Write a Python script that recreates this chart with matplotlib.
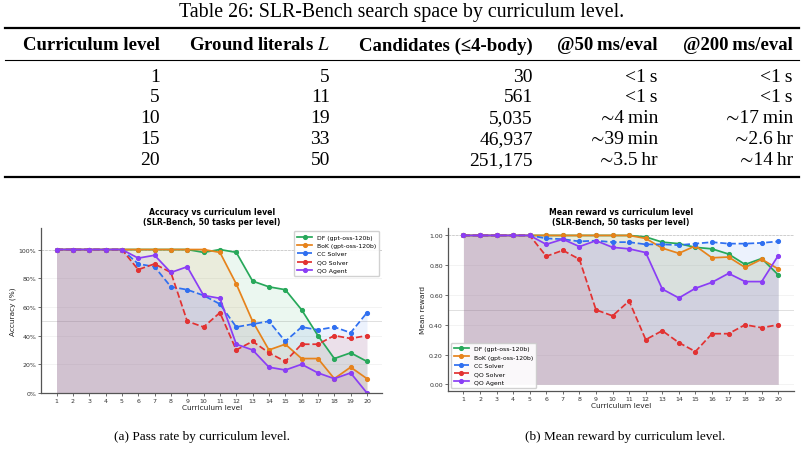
import matplotlib
matplotlib.use("Agg")
import matplotlib.pyplot as plt
from matplotlib.lines import Line2D
from matplotlib.ticker import FuncFormatter

plt.rcParams["mathtext.fontset"] = "stix"

# ---------------- table data ----------------
tbl_title = "Table 26: SLR-Bench search space by curriculum level."
tbl_headers = ["Curriculum level", "Ground literals $L$", "Candidates (\u22644-body)",
               "@50\u2009ms/eval", "@200\u2009ms/eval"]
tbl_level = ["1", "5", "10", "15", "20"]
tbl_literals = ["5", "11", "19", "33", "50"]
tbl_candidates = ["30", "561", "5,035", "46,937", "251,175"]
tbl_50ms = ["<1\u2009s", "<1\u2009s", "\u223c4\u2009min", "\u223c39\u2009min", "\u223c3.5\u2009hr"]
tbl_200ms = ["<1\u2009s", "<1\u2009s", "\u223c17\u2009min", "\u223c2.6\u2009hr", "\u223c14\u2009hr"]

# ---------------- chart data ----------------
levels = list(range(1, 21))
names = ["DF (gpt-oss-120b)", "BoK (gpt-oss-120b)", "CC Solver", "QO Solver", "QO Agent"]
colors = ["#27a85a", "#e6831c", "#2f6ff0", "#e23232", "#8a3ef5"]
styles = ["-", "-", "--", "--", "-"]

acc_df = [100, 100, 100, 100, 100, 100, 100, 100, 100, 98, 100, 98, 78, 74, 72, 58, 40, 24, 28, 22]
acc_bok = [100, 100, 100, 100, 100, 100, 100, 100, 100, 100, 98, 76, 50, 30, 34, 24, 24, 10, 18, 10]
acc_cc = [100, 100, 100, 100, 100, 90, 88, 74, 72, 68, 62, 46, 48, 50, 36, 46, 44, 46, 42, 56]
acc_qos = [100, 100, 100, 100, 100, 86, 90, 84, 50, 46, 56, 30, 36, 28, 22, 34, 34, 40, 38, 40]
acc_qoa = [100, 100, 100, 100, 100, 94, 96, 84, 88, 68, 66, 34, 30, 18, 16, 20, 14, 10, 14, 0]

rew_df = [1.0, 1.0, 1.0, 1.0, 1.0, 1.0, 1.0, 1.0, 1.0, 1.0, 1.0, 0.99, 0.955, 0.945, 0.92, 0.91, 0.875, 0.805, 0.845, 0.735]
rew_bok = [1.0, 1.0, 1.0, 1.0, 1.0, 1.0, 1.0, 1.0, 1.0, 1.0, 1.0, 0.98, 0.915, 0.88, 0.93, 0.85, 0.855, 0.785, 0.84, 0.775]
rew_cc = [1.0, 1.0, 1.0, 1.0, 1.0, 0.98, 0.975, 0.96, 0.965, 0.955, 0.955, 0.94, 0.94, 0.935, 0.945, 0.955, 0.945, 0.945, 0.95, 0.96]
rew_qos = [1.0, 1.0, 1.0, 1.0, 1.0, 0.86, 0.90, 0.84, 0.50, 0.46, 0.56, 0.30, 0.36, 0.28, 0.22, 0.34, 0.34, 0.40, 0.38, 0.40]
rew_qoa = [1.0, 1.0, 1.0, 1.0, 1.0, 0.94, 0.975, 0.925, 0.965, 0.92, 0.91, 0.885, 0.64, 0.58, 0.645, 0.685, 0.745, 0.69, 0.69, 0.865]

W, H = 804, 452
fig = plt.figure(figsize=(W / 100, H / 100), dpi=100)


def fx(px):
    return px / W


def fy(py):
    return 1 - py / H


# ---------------- table ----------------
serif = ["Liberation Serif", "STIXGeneral", "DejaVu Serif"]
fig.text(fx(402), fy(12), tbl_title, ha="center", va="center", fontsize=14.3, family=serif)

for y, lw in [(29, 1.6), (61, 0.8), (178, 1.6)]:
    fig.add_artist(Line2D([fx(5), fx(799)], [fy(y), fy(y)], color="black", lw=lw))

col_right = [160, 330, 533, 658, 793]
for x, h in zip(col_right, tbl_headers):
    fig.text(fx(x), fy(46), h, ha="right", va="center", fontsize=13.5, family=serif,
             fontweight="bold")

row_y = [77, 97.5, 118.5, 139.5, 160.5]
cols = [tbl_level, tbl_literals, tbl_candidates, tbl_50ms, tbl_200ms]
for x, col in zip(col_right, cols):
    for y, v in zip(row_y, col):
        fig.text(fx(x), fy(y), v, ha="right", va="center", fontsize=14, family=serif)

# ---------------- charts ----------------
def draw(ax, series, ref_top, ref_mid):
    for name, vals, c, ls in zip(names, series, colors, styles):
        ax.fill_between(levels, 0, vals, color=c, alpha=0.09, lw=0)
        ax.plot(levels, vals, color=c, ls=ls, lw=1.25, marker="o", ms=2.7, label=name)
    ax.axhline(ref_top, color="gray", ls="--", lw=0.5, alpha=0.6, zorder=0)
    ax.axhline(ref_mid, color="gray", lw=0.7, alpha=0.25, zorder=0)
    ax.yaxis.grid(True, color="#dddddd", lw=0.5, alpha=0.5)
    ax.set_axisbelow(True)
    ax.set_xticks(levels)
    for s in ["top", "right"]:
        ax.spines[s].set_visible(False)
    for s in ["left", "bottom"]:
        ax.spines[s].set_color("#555555")
        ax.spines[s].set_linewidth(0.9)
    ax.tick_params(labelsize=4.5, length=2, width=0.5, pad=1.5, colors="#333333")
    ax.set_xlabel("Curriculum level", fontsize=5.3, labelpad=1, color="#222222")


ax1 = fig.add_axes([fx(41), 1 - 394 / H, fx(382.5 - 41), 165 / H])
draw(ax1, [acc_df, acc_bok, acc_cc, acc_qos, acc_qoa], 100, 50)
ax1.set_ylim(0, 115)
ax1.set_yticks([0, 20, 40, 60, 80, 100])
ax1.yaxis.set_major_formatter(FuncFormatter(lambda v, p: f"{v:.0f}%"))
ax1.set_ylabel("Accuracy (%)", fontsize=5.3, labelpad=2, color="#222222")
ax1.set_title("Accuracy vs curriculum level\n(SLR-Bench, 50 tasks per level)",
              fontsize=5.6, fontweight="bold", pad=3, linespacing=1.05)
ax1.legend(loc="upper right", fontsize=4.4, handlelength=2.4, borderpad=0.55,
           labelspacing=0.5, framealpha=0.9, edgecolor="#cccccc", fancybox=True)

ax2 = fig.add_axes([fx(447.7), 1 - 392 / H, fx(794 - 447.7), 163 / H])
draw(ax2, [rew_df, rew_bok, rew_cc, rew_qos, rew_qoa], 1.0, 0.5)
ax2.set_ylim(-0.045, 1.05)
ax2.set_yticks([0, 0.2, 0.4, 0.6, 0.8, 1.0])
ax2.yaxis.set_major_formatter(FuncFormatter(lambda v, p: f"{v:.2f}"))
ax2.set_ylabel("Mean reward", fontsize=5.3, labelpad=2, color="#222222")
ax2.set_title("Mean reward vs curriculum level\n(SLR-Bench, 50 tasks per level)",
              fontsize=5.6, fontweight="bold", pad=3, linespacing=1.05)
ax2.legend(loc="lower left", fontsize=4.4, handlelength=2.4, borderpad=0.55,
           labelspacing=0.5, framealpha=0.9, edgecolor="#cccccc", fancybox=True)

# ---------------- captions ----------------
fig.text(fx(202), fy(437), "(a) Pass rate by curriculum level.", ha="center", va="center",
         fontsize=9.5, family=serif)
fig.text(fx(625), fy(437), "(b) Mean reward by curriculum level.", ha="center", va="center",
         fontsize=9.5, family=serif)

fig.savefig("out.png", dpi=100)
